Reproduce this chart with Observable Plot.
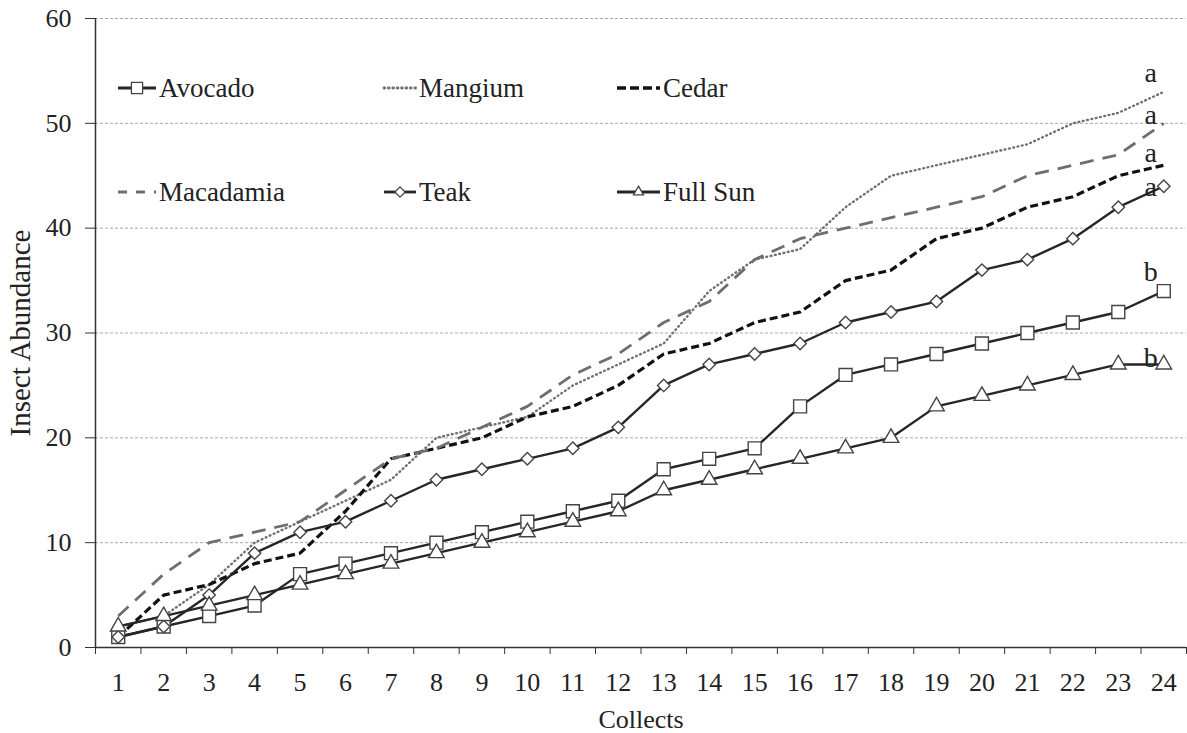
<!DOCTYPE html>
<html>
<head>
<meta charset="utf-8">
<script src="https://cdn.jsdelivr.net/npm/d3@7"></script>
<script src="https://cdn.jsdelivr.net/npm/@observablehq/plot@0.6"></script>
<style>
  html, body { margin: 0; padding: 0; background: #fff; }
  #wrap { position: relative; width: 1187px; height: 733px; }
  #wrap svg { position: absolute; left: 0; top: 0; }
</style>
</head>
<body>
<div id="wrap"></div>
<script>
// ---- data ----
const collects = [1,2,3,4,5,6,7,8,9,10,11,12,13,14,15,16,17,18,19,20,21,22,23,24];
const avocado   = [1,2,3,4,7,8,9,10,11,12,13,14,17,18,19,23,26,27,28,29,30,31,32,34];
const mangium   = [2,3,6,10,12,14,16,20,21,22,25,27,29,34,37,38,42,45,46,47,48,50,51,53];
const cedar     = [1,5,6,8,9,13,18,19,20,22,23,25,28,29,31,32,35,36,39,40,42,43,45,46];
const macadamia = [3,7,10,11,12,15,18,19,21,23,26,28,31,33,37,39,40,41,42,43,45,46,47,50];
const teak      = [1,2,5,9,11,12,14,16,17,18,19,21,25,27,28,29,31,32,33,36,37,39,42,44];
const fullSun   = [2,3,4,5,6,7,8,9,10,11,12,13,15,16,17,18,19,20,23,24,25,26,27,27];
const seriesNames = ["Avocado","Mangium","Cedar","Macadamia","Teak","Full Sun"];
const seriesValues = [avocado, mangium, cedar, macadamia, teak, fullSun];
const groupLetters = ["b","a","a","a","a","b"];
const yTicks = [0,10,20,30,40,50,60];

// ---- styles ----
const styles = {
  "Avocado":   {stroke:"#262626", width:2.4, dash:null,   cap:"butt",  symbol:"square",   r:7.3},
  "Mangium":   {stroke:"#707070", width:2.4, dash:"0.8,3.6", cap:"round", symbol:null},
  "Cedar":     {stroke:"#111", width:3.2, dash:"8,4",  cap:"butt", symbol:null},
  "Macadamia": {stroke:"#6e6e6e", width:2.8, dash:"14,9", cap:"butt", symbol:null},
  "Teak":      {stroke:"#262626", width:2.4, dash:null,   cap:"butt", symbol:"diamond2", r:5.6},
  "Full Sun":  {stroke:"#262626", width:2.4, dash:null,   cap:"butt", symbol:"triangle", r:5.8}
};
const legendDash = {"Mangium":"0.8,3.6", "Cedar":"9,4", "Macadamia":"9,9"};
const letterDy = {"Avocado":-19,"Mangium":-19,"Cedar":-12,"Macadamia":-8,"Teak":1,"Full Sun":-6};

const seriesRows = seriesNames.map((name, i) =>
  collects.map((c, j) => ({series: name, collect: c, value: seriesValues[i][j]})));

const font = "'Liberation Serif', 'Times New Roman', serif";
const boundaries = collects.map(c => c - 0.5).concat([collects[collects.length - 1] + 0.5]);

const marks = [
  Plot.ruleY(yTicks.filter(d => d > 0), {stroke:"#a8a8a8", strokeWidth:1, strokeDasharray:"3,2"}),
  Plot.axisY({ticks: yTicks, tickSize: 10, tickPadding: 14, fontSize: 26, label: null, stroke: "#333"}),
  Plot.axisY({ticks: [], tickSize: 0, label: "Insect Abundance", fontSize: 29,
              labelAnchor: "center", labelArrow: "none", labelOffset: 86}),
  Plot.axisX({ticks: boundaries, tickFormat: () => "", tickSize: 7, label: null, stroke:"#333"}),
  Plot.axisX({ticks: collects, tickSize: 0, tickPadding: 25, fontSize: 26, label: "Collects",
              labelAnchor: "center", labelArrow: "none", labelOffset: 80}),
  Plot.ruleX([boundaries[0]], {stroke:"#333", strokeWidth:1.5}),
  Plot.ruleY([0], {stroke:"#333", strokeWidth:1.5})
];

seriesNames.forEach((name, i) => {
  const s = styles[name];
  marks.push(Plot.line(seriesRows[i], {x:"collect", y:"value", stroke:s.stroke, strokeWidth:s.width,
    strokeDasharray:s.dash || undefined, strokeLinecap:s.cap, strokeLinejoin:"round"}));
});
seriesNames.forEach((name, i) => {
  const s = styles[name];
  if (s.symbol) marks.push(Plot.dot(seriesRows[i], {x:"collect", y:"value", symbol: s.symbol, r: s.r,
    fill:"white", stroke:"#444", strokeWidth:1.4}));
});
seriesNames.forEach((name, i) => {
  const last = seriesRows[i].slice(-1);
  marks.push(Plot.text(last, {x:"collect", y:"value", text: () => groupLetters[i], dx:-13, dy: letterDy[name],
    fontSize: 28, fill:"#222"}));
});

const chart = Plot.plot({
  width: 1187, height: 733,
  marginLeft: 95, marginRight: 1, marginTop: 18, marginBottom: 86,
  x: {type:"linear", domain:[boundaries[0], boundaries[boundaries.length-1]]},
  y: {domain:[0,60]},
  style: {fontFamily: font, fontSize: "27px", color: "#222", background: "white"},
  marks
});
document.getElementById("wrap").appendChild(chart);

// ---- legend overlay ----
const legendOrder = [["Avocado","Mangium","Cedar"],["Macadamia","Teak","Full Sun"]];
const colSpans = [[118,156],[384,416],[617,660]];
const rowY = [88, 192];
const leg = d3.select("#wrap").append("svg").attr("width",1187).attr("height",733)
  .style("pointer-events","none");
legendOrder.forEach((row, ri) => row.forEach((name, ci) => {
  const s = styles[name];
  const [x0, x1] = colSpans[ci];
  const y = rowY[ri];
  const g = leg.append("g");
  g.append("line").attr("x1",x0).attr("x2",x1).attr("y1",y).attr("y2",y)
    .attr("stroke", s.stroke).attr("stroke-width", s.width + 0.4)
    .attr("stroke-linecap", s.cap)
    .attr("stroke-dasharray", legendDash[name] || null);
  if (s.symbol) {
    const sym = {square: d3.symbolSquare, diamond2: d3.symbolDiamond2, triangle: d3.symbolTriangle2}[s.symbol];
    const size = Math.PI * (s.r - 1) * (s.r - 1);
    g.append("path").attr("d", d3.symbol(sym, size)()).attr("transform", `translate(${(x0+x1)/2},${y})`)
      .attr("fill","white").attr("stroke","#444").attr("stroke-width",1.3);
  }
  g.append("text").attr("x", x1 + 3).attr("y", y).attr("dy","0.34em")
    .attr("font-family", font).attr("font-size", 27).attr("fill","#222").text(name);
}));
</script>
</body>
</html>
